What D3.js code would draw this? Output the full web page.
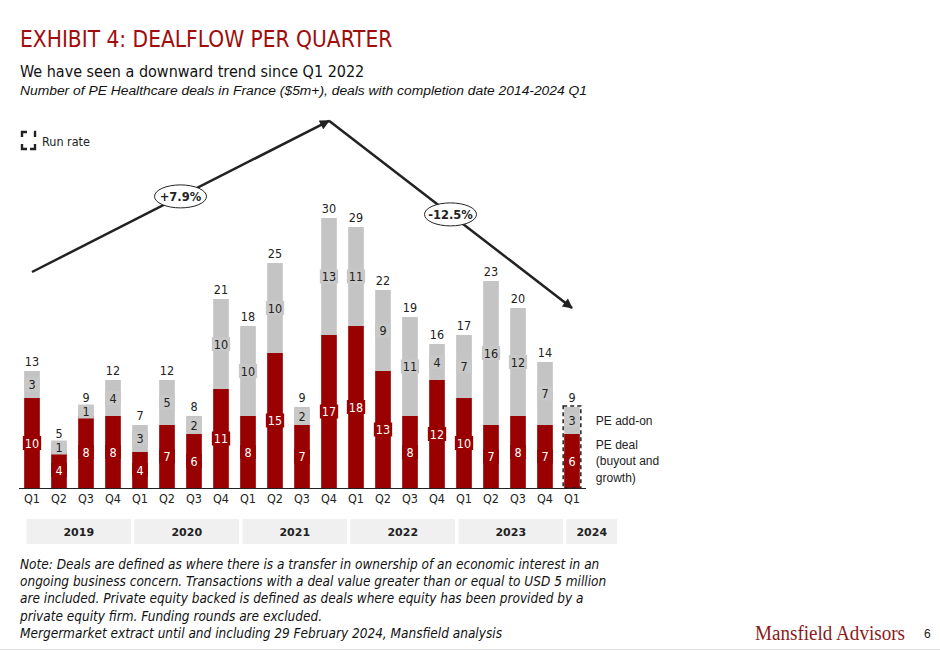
<!DOCTYPE html>
<html>
<head>
<meta charset="utf-8">
<script src="https://cdn.jsdelivr.net/npm/d3@7"></script>
<style>
  body { margin: 0; background: #fff; }
  svg { display: block; }
</style>
</head>
<body>
<svg id="chart"></svg>
<script>
// DATA
const quarters = ["Q1","Q2","Q3","Q4","Q1","Q2","Q3","Q4","Q1","Q2","Q3","Q4","Q1","Q2","Q3","Q4","Q1","Q2","Q3","Q4","Q1"];
const quarterYears = ["2019","2019","2019","2019","2020","2020","2020","2020","2021","2021","2021","2021","2022","2022","2022","2022","2023","2023","2023","2023","2024"];
const peDeal  = [10, 4, 8, 8, 4, 7, 6, 11, 8, 15, 7, 17, 18, 13, 8, 12, 10, 7, 8, 7, 6];
const peAddOn = [ 3, 1, 1, 4, 3, 5, 2, 10, 10, 10, 2, 13, 11, 9, 11, 4, 7, 16, 12, 7, 3];
const yearLabels = ["2019","2020","2021","2022","2023","2024"];
const runRateQuarters = ["2024 Q1"];

// trend arrows (quarter anchors + level on the value axis)
const trendLabels = ["+7.9%", "-12.5%"];
const trendFrom = ["2019 Q1", "2021 Q4"];
const trendTo   = ["2021 Q4", "2024 Q1"];
const trendFromLevel = [24, 40.8];
const trendToLevel   = [40.8, 20];

const w = 940, h = 651;
const red = "#990000", grey = "#c4c4c4", ink = "#222";
const narrow = "'Liberation Sans Narrow', 'DejaVu Sans Condensed', sans-serif";
const numFont = "'DejaVu Sans Condensed', 'DejaVu Sans', sans-serif";

const svg = d3.select("#chart")
  .attr("width", w)
  .attr("height", h);

// TITLES
svg.append("text")
  .text("EXHIBIT 4: DEALFLOW PER QUARTER")
  .attr("x", 20).attr("y", 47)
  .attr("font-family", narrow)
  .attr("font-size", 22.5)
  .attr("fill", "#a00d0d");

svg.append("text")
  .text("We have seen a downward trend since Q1 2022")
  .attr("x", 20).attr("y", 77)
  .attr("font-family", narrow)
  .attr("font-size", 16)
  .attr("fill", "#111");

svg.append("text")
  .text("Number of PE Healthcare deals in France ($5m+), deals with completion date 2014-2024 Q1")
  .attr("x", 20).attr("y", 95)
  .attr("textLength", 567)
  .attr("lengthAdjust", "spacingAndGlyphs")
  .attr("font-family", "'Liberation Sans', Arial, sans-serif")
  .attr("font-style", "italic")
  .attr("font-size", 12.5)
  .attr("fill", "#111");

// SCALES
const keys = quarters.map((q, i) => quarterYears[i] + " " + q);
const x = d3.scaleBand()
  .domain(keys)
  .range([18.5, 585.5])
  .paddingInner(0.42)
  .paddingOuter(0.21);
const y = d3.scaleLinear().domain([0, 30]).range([488, 218]);
const bw = x.bandwidth();
const step = x.step();
const cx = k => x(k) + bw / 2;

const rows = keys.map((k, i) => ({ key: k, deal: peDeal[i], addon: peAddOn[i], total: peDeal[i] + peAddOn[i] }));
const series = d3.stack().keys(["deal", "addon"])(rows);
const fills = { deal: red, addon: grey };
const labelColor = { deal: "#fff", addon: ink };

// BARS
const layers = svg.append("g").selectAll("g")
  .data(series)
  .join("g")
  .attr("fill", s => fills[s.key]);

layers.selectAll("rect")
  .data(s => s)
  .join("rect")
  .attr("x", d => x(d.data.key))
  .attr("y", d => y(d[1]))
  .attr("width", bw)
  .attr("height", d => y(d[0]) - y(d[1]));

// SEGMENT LABELS with small background boxes
series.forEach(s => {
  s.forEach(d => {
    const my = (y(d[0]) + y(d[1])) / 2;
    const g = svg.append("g");
    const box = g.append("rect").attr("fill", s.key === "addon" ? "#c8c8c8" : red);
    const t = g.append("text")
      .text(d[1] - d[0])
      .attr("x", cx(d.data.key))
      .attr("y", my)
      .attr("dy", "0.36em")
      .attr("text-anchor", "middle")
      .attr("font-family", numFont)
      .attr("font-size", 12.5)
      .attr("fill", labelColor[s.key]);
    const tw = t.node().getComputedTextLength() + 4;
    const bwid = Math.max(bw, tw);
    box.attr("x", cx(d.data.key) - bwid / 2)
      .attr("y", my - 7)
      .attr("width", bwid)
      .attr("height", 14);
  });
});

// TOTALS
svg.append("g").selectAll("text")
  .data(rows)
  .join("text")
  .text(d => d.total)
  .attr("x", d => cx(d.key))
  .attr("y", d => y(d.total) - 5)
  .attr("text-anchor", "middle")
  .attr("font-family", numFont)
  .attr("font-size", 12.5)
  .attr("fill", ink);

// RUN RATE dashed outline
svg.append("g").selectAll("rect")
  .data(rows.filter(d => runRateQuarters.includes(d.key)))
  .join("rect")
  .attr("x", d => x(d.key) - 1)
  .attr("y", d => y(d.total) - 1)
  .attr("width", bw + 2)
  .attr("height", d => y(0) - y(d.total) + 1)
  .attr("fill", "none")
  .attr("stroke", ink)
  .attr("stroke-width", 1.5)
  .attr("stroke-dasharray", "4,3");

// AXIS
const axis = svg.append("g")
  .attr("transform", `translate(0,${y(0)})`)
  .call(d3.axisBottom(x).tickSize(0).tickSizeOuter(0).tickPadding(6)
    .tickFormat((k, i) => quarters[i]));
axis.select(".domain").attr("stroke", ink).attr("stroke-width", 1.2);
axis.selectAll("text")
  .attr("font-family", numFont)
  .attr("font-size", 12.5)
  .attr("fill", ink);

// YEAR BOXES
const yearGroups = yearLabels.map(yr => {
  const ks = keys.filter((k, i) => quarterYears[i] === yr);
  return { year: yr, first: ks[0], n: ks.length };
});
const yg = svg.append("g").selectAll("g")
  .data(yearGroups)
  .join("g");
yg.append("rect")
  .attr("x", d => cx(d.first) - 5.5)
  .attr("y", 519)
  .attr("width", d => Math.max(d.n, 2) * step - 3.5)
  .attr("height", 25)
  .attr("fill", "#f0f0f0");
yg.append("text")
  .text(d => d.year)
  .attr("x", d => cx(d.first) - 5.5 + (Math.max(d.n, 2) * step - 3.5) / 2)
  .attr("y", 535.5)
  .attr("text-anchor", "middle")
  .attr("font-family", "'DejaVu Sans', sans-serif")
  .attr("font-weight", "bold")
  .attr("font-size", 11)
  .attr("fill", ink);

// LEGEND (right of last bar)
const last = rows[rows.length - 1];
const lx = x(last.key) + bw + 16;
const legFont = "'Liberation Sans', Arial, sans-serif";
svg.append("text")
  .text("PE add-on")
  .attr("x", lx).attr("y", (y(last.deal) + y(last.total)) / 2)
  .attr("dy", "0.36em")
  .attr("font-family", legFont).attr("font-size", 12).attr("fill", ink);
const dealMid = (y(0) + y(last.deal)) / 2;
["PE deal", "(buyout and", "growth)"].forEach((s, i) => {
  svg.append("text")
    .text(s)
    .attr("x", lx).attr("y", dealMid + (i - 1) * 16.5)
    .attr("dy", "0.36em")
    .attr("font-family", legFont).attr("font-size", 12).attr("fill", ink);
});

// RUN RATE legend icon
const ix = 22, iy = 132, iw = 13, ih = 17, a = 5, b = 5;
svg.append("path")
  .attr("d", `M${ix},${iy + b}V${iy}H${ix + a} M${ix + iw - 1},${iy}H${ix + iw}V${iy + b}` +
             ` M${ix + iw},${iy + ih - b}V${iy + ih}H${ix + iw - a} M${ix + a},${iy + ih}H${ix}V${iy + ih - b}`)
  .attr("fill", "none")
  .attr("stroke", ink)
  .attr("stroke-width", 2.4);
svg.append("text")
  .text("Run rate")
  .attr("x", 42).attr("y", 145.5)
  .attr("font-family", narrow).attr("font-size", 12.5).attr("fill", ink);

// TREND ARROWS
svg.append("defs").append("marker")
  .attr("id", "arrow")
  .attr("viewBox", "0 0 10 10")
  .attr("refX", 9).attr("refY", 5)
  .attr("markerUnits", "userSpaceOnUse")
  .attr("markerWidth", 11).attr("markerHeight", 10)
  .attr("orient", "auto")
  .append("path")
  .attr("d", "M0,0L10,5L0,10z")
  .attr("fill", ink);

trendLabels.forEach((lab, i) => {
  const x1 = cx(trendFrom[i]), y1 = y(trendFromLevel[i]);
  const x2 = cx(trendTo[i]), y2 = y(trendToLevel[i]);
  svg.append("line")
    .attr("x1", x1).attr("y1", y1)
    .attr("x2", x2).attr("y2", y2)
    .attr("stroke", ink)
    .attr("stroke-width", 2.5)
    .attr("marker-end", "url(#arrow)");
  const mx = (x1 + x2) / 2, my = (y1 + y2) / 2;
  svg.append("ellipse")
    .attr("cx", mx).attr("cy", my)
    .attr("rx", 26).attr("ry", 11.5)
    .attr("fill", "#fff")
    .attr("stroke", ink)
    .attr("stroke-width", 1);
  svg.append("text")
    .text(lab)
    .attr("x", mx).attr("y", my)
    .attr("dy", "0.36em")
    .attr("text-anchor", "middle")
    .attr("font-family", "'DejaVu Sans', sans-serif")
    .attr("font-weight", "bold")
    .attr("font-size", 11.5)
    .attr("fill", ink);
});

// NOTES
const notes = [
  "Note: Deals are defined as where there is a transfer in ownership of an economic interest in an",
  "ongoing business concern. Transactions with a deal value greater than or equal to USD 5 million",
  "are included. Private equity backed is defined as deals where equity has been provided by a",
  "private equity firm. Funding rounds are excluded.",
  "Mergermarket extract until and including 29 February 2024, Mansfield analysis"
];
svg.append("g").selectAll("text")
  .data(notes)
  .join("text")
  .text(d => d)
  .attr("x", 20)
  .attr("y", (d, i) => 569 + i * 17.2)
  .attr("font-family", narrow)
  .attr("font-style", "italic")
  .attr("font-size", 13.5)
  .attr("fill", "#111");

svg.append("text")
  .text("Mansfield Advisors")
  .attr("x", 755).attr("y", 640)
  .attr("textLength", 150)
  .attr("lengthAdjust", "spacingAndGlyphs")
  .attr("font-family", "'Liberation Serif', 'DejaVu Serif', serif")
  .attr("font-size", 20)
  .attr("fill", "#8b1a1a");

svg.append("text")
  .text("6")
  .attr("x", 924).attr("y", 638)
  .attr("font-family", legFont)
  .attr("font-size", 12)
  .attr("fill", ink);

svg.append("line")
  .attr("x1", 0).attr("x2", w)
  .attr("y1", 649.5).attr("y2", 649.5)
  .attr("stroke", "#e4e4e4");
</script>
</body>
</html>
